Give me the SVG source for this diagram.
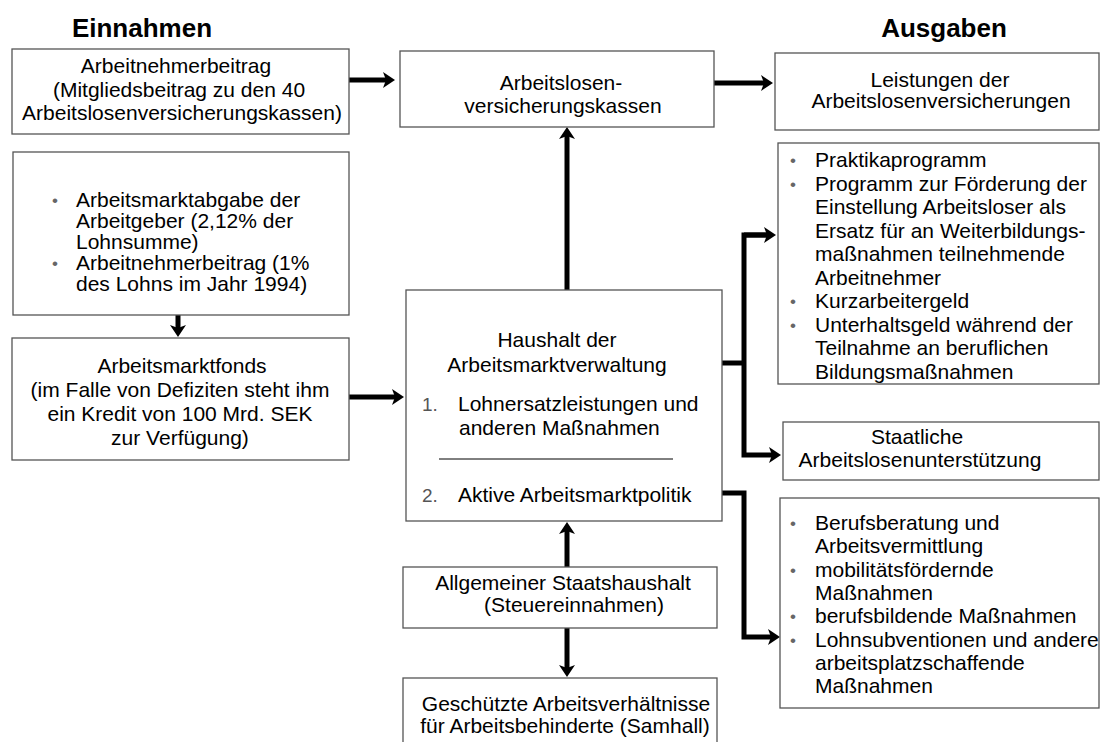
<svg xmlns="http://www.w3.org/2000/svg" width="1101" height="742" viewBox="0 0 1101 742">
<defs>
<marker id="ah" viewBox="0 0 12 16" refX="3" refY="8" markerWidth="12" markerHeight="16" markerUnits="userSpaceOnUse" orient="auto">
<path d="M0,0 L12,8 L0,16 L3,8 Z" fill="#000"/>
</marker>
<style>
.box{fill:#fff;stroke:#555;stroke-width:1.3}
text{font-family:"Liberation Sans",Arial,sans-serif;font-size:21px;fill:#000}
.c{text-anchor:middle}
.title{font-weight:bold;font-size:26px}
.bul{fill:#666;font-size:17px}
.num{fill:#555;font-size:19px}
.conn{fill:none;stroke:#000;stroke-width:5}
</style>
</defs>
<rect width="1101" height="742" fill="#fff"/>
<text class="title c" x="142" y="37">Einnahmen</text>
<text class="title c" x="944" y="37">Ausgaben</text>

<g id="connectors">
<path class="conn" d="M349,80 H386" marker-end="url(#ah)"/>
<path class="conn" d="M714,83 H764" marker-end="url(#ah)"/>
<path class="conn" d="M567,290 V136" marker-end="url(#ah)"/>
<path class="conn" d="M178,315 V328" marker-end="url(#ah)"/>
<path class="conn" d="M349,397 H395" marker-end="url(#ah)"/>
<path class="conn" d="M722,363 H744"/>
<path class="conn" d="M767,235 H744 V455 H772" marker-end="url(#ah)"/>
<path class="conn" d="M744,235 H767" marker-end="url(#ah)"/>
<path class="conn" d="M722,493 H744 V637 H771" marker-end="url(#ah)"/>
<path class="conn" d="M567,567 V531" marker-end="url(#ah)"/>
<path class="conn" d="M567,628 V668" marker-end="url(#ah)"/>
</g>

<g id="arbeitnehmerbeitrag">
<rect class="box" x="12" y="49" width="337" height="85"/>
<text class="c" x="176" y="73">Arbeitnehmerbeitrag</text>
<text class="c" x="179" y="97">(Mitgliedsbeitrag zu den 40</text>
<text class="c" x="182" y="120">Arbeitslosenversicherungskassen)</text>
</g>

<g id="kassen">
<rect class="box" x="400" y="51" width="314" height="76"/>
<text class="c" x="561" y="90">Arbeitslosen-</text>
<text class="c" x="563" y="113">versicherungskassen</text>
</g>

<g id="leistungen">
<rect class="box" x="775" y="53" width="324" height="77"/>
<text class="c" x="940" y="87">Leistungen der</text>
<text class="c" x="941" y="108">Arbeitslosenversicherungen</text>
</g>

<g id="abgaben">
<rect class="box" x="13" y="152" width="336" height="163"/>
<text class="bul" x="52" y="206">•</text>
<text x="76" y="207">Arbeitsmarktabgabe der</text>
<text x="76" y="228">Arbeitgeber (2,12% der</text>
<text x="76" y="249">Lohnsumme)</text>
<text class="bul" x="52" y="269">•</text>
<text x="76" y="270">Arbeitnehmerbeitrag (1%</text>
<text x="76" y="291">des Lohns im Jahr 1994)</text>
</g>

<g id="fonds">
<rect class="box" x="12" y="338" width="337" height="122"/>
<text class="c" x="182" y="373">Arbeitsmarktfonds</text>
<text class="c" x="180" y="397">(im Falle von Defiziten steht ihm</text>
<text class="c" x="180" y="421">ein Kredit von 100 Mrd. SEK</text>
<text class="c" x="180" y="445">zur Verfügung)</text>
</g>

<g id="haushalt">
<rect class="box" x="406" y="290" width="316" height="231"/>
<text class="c" x="557" y="347">Haushalt der</text>
<text class="c" x="557" y="372">Arbeitsmarktverwaltung</text>
<text class="num" x="422" y="411">1.</text>
<text x="458" y="411">Lohnersatzleistungen und</text>
<text x="459" y="435">anderen Maßnahmen</text>
<line x1="439" y1="459" x2="673" y2="459" stroke="#000" stroke-width="1"/>
<text class="num" x="422" y="502">2.</text>
<text x="458" y="502">Aktive Arbeitsmarktpolitik</text>
</g>

<g id="programme">
<rect class="box" x="778" y="143" width="321" height="241"/>
<text class="bul" x="790" y="166">•</text>
<text x="815" y="167">Praktikaprogramm</text>
<text class="bul" x="790" y="189.5">•</text>
<text x="815" y="190.5">Programm zur Förderung der</text>
<text x="815" y="214">Einstellung Arbeitsloser als</text>
<text x="815" y="237.5">Ersatz für an Weiterbildungs-</text>
<text x="815" y="261">maßnahmen teilnehmende</text>
<text x="815" y="284.5">Arbeitnehmer</text>
<text class="bul" x="790" y="307">•</text>
<text x="815" y="308">Kurzarbeitergeld</text>
<text class="bul" x="790" y="330.5">•</text>
<text x="815" y="331.5">Unterhaltsgeld während der</text>
<text x="815" y="355">Teilnahme an beruflichen</text>
<text x="815" y="378.5">Bildungsmaßnahmen</text>
</g>

<g id="staatliche">
<rect class="box" x="783" y="422" width="316" height="58"/>
<text class="c" x="917" y="444">Staatliche</text>
<text class="c" x="920" y="467">Arbeitslosenunterstützung</text>
</g>

<g id="aktive">
<rect class="box" x="780" y="498" width="319" height="210"/>
<text class="bul" x="790" y="529">•</text>
<text x="815" y="530">Berufsberatung und</text>
<text x="815" y="553">Arbeitsvermittlung</text>
<text class="bul" x="790" y="575.5">•</text>
<text x="815" y="576.5">mobilitätsfördernde</text>
<text x="815" y="600">Maßnahmen</text>
<text class="bul" x="790" y="622">•</text>
<text x="815" y="623">berufsbildende Maßnahmen</text>
<text class="bul" x="790" y="645.5">•</text>
<text x="815" y="646.5">Lohnsubventionen und andere</text>
<text x="815" y="670">arbeitsplatzschaffende</text>
<text x="815" y="693">Maßnahmen</text>
</g>

<g id="staatshaushalt">
<rect class="box" x="403" y="567" width="314" height="61"/>
<text class="c" x="563" y="590">Allgemeiner Staatshaushalt</text>
<text class="c" x="574" y="612">(Steuereinnahmen)</text>
</g>

<g id="samhall">
<rect class="box" x="403" y="678" width="314" height="80"/>
<text class="c" x="566" y="711">Geschützte Arbeitsverhältnisse</text>
<text class="c" x="565" y="733">für Arbeitsbehinderte (Samhall)</text>
</g>
</svg>
